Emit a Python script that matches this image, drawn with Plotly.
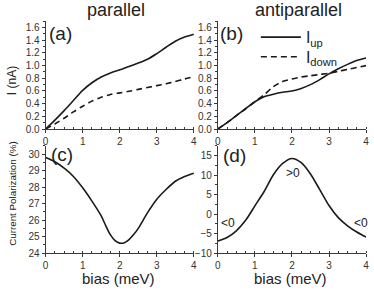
import plotly.graph_objects as go

W, H = 374, 295

# ---------------- data ----------------
bias = [0, 0.25, 0.5, 0.75, 1, 1.25, 1.5, 1.75, 2, 2.25, 2.5, 2.75, 3, 3.25, 3.5, 3.75, 4]

par_up = [0, 0.14, 0.29, 0.45, 0.61, 0.73, 0.82, 0.885, 0.935, 0.985, 1.04, 1.10, 1.19, 1.29, 1.385, 1.45, 1.495]
par_down = [0, 0.08, 0.17, 0.27, 0.36, 0.44, 0.50, 0.545, 0.57, 0.595, 0.625, 0.655, 0.685, 0.715, 0.75, 0.79, 0.825]

anti_up = [0, 0.10, 0.21, 0.32, 0.43, 0.51, 0.55, 0.58, 0.60, 0.64, 0.70, 0.78, 0.87, 0.95, 1.02, 1.08, 1.12]
anti_down = [0, 0.10, 0.21, 0.32, 0.43, 0.54, 0.67, 0.75, 0.79, 0.82, 0.84, 0.86, 0.88, 0.91, 0.94, 0.97, 1.0]

bias_c = [0, 0.25, 0.5, 0.75, 1, 1.25, 1.5, 1.625, 1.75, 1.875, 2, 2.125, 2.25, 2.375, 2.5,
          2.75, 3, 3.25, 3.5, 3.75, 4]
pol_par = [29.8, 29.54, 29.15, 28.65, 27.96, 27.15, 26.25, 25.65, 25.1, 24.75, 24.6, 24.63, 24.82, 25.12, 25.5,
           26.45, 27.27, 27.86, 28.36, 28.65, 28.85]

pol_anti = [-6.9, -6.0, -4.3, -1.6, 2.1, 5.8, 10.1, 13.0, 14.3, 13.2, 10.3, 6.3, 2.2, -0.9, -3.0, -4.6, -5.9]

x_ticks = [0, 1, 2, 3, 4]
i_ticks = [0.0, 0.2, 0.4, 0.6, 0.8, 1.0, 1.2, 1.4, 1.6]
pc_ticks = [24, 25, 26, 27, 28, 29, 30]
pd_ticks = [-10, -5, 0, 5, 10, 15]

FONT = "Liberation Sans, Arial, Helvetica, sans-serif"
LINE = "#1a1a1a"
AX = "#3a3a3a"


def px(x):
    return x / W


def py(y):
    return 1 - y / H


fig = go.Figure()

solid = dict(color=LINE, width=1.6, shape="spline", smoothing=0.8)
dashed = dict(color=LINE, width=1.6, dash="6px,4px", shape="spline", smoothing=0.8)

fig.add_trace(go.Scatter(x=bias, y=par_up, mode="lines", line=solid, xaxis="x", yaxis="y", showlegend=False))
fig.add_trace(go.Scatter(x=bias, y=par_down, mode="lines", line=dashed, xaxis="x", yaxis="y", showlegend=False))
fig.add_trace(go.Scatter(x=bias, y=anti_up, mode="lines", line=solid, xaxis="x2", yaxis="y2",
                         name="I<sub>up</sub>", showlegend=True, legend="legend"))
fig.add_trace(go.Scatter(x=bias, y=anti_down, mode="lines", line=dashed, xaxis="x2", yaxis="y2",
                         name="I<sub>down</sub>", showlegend=True, legend="legend2"))
fig.add_trace(go.Scatter(x=bias_c, y=pol_par, mode="lines", line=solid, xaxis="x3", yaxis="y3", showlegend=False))
fig.add_trace(go.Scatter(x=bias, y=pol_anti, mode="lines", line=solid, xaxis="x4", yaxis="y4", showlegend=False))

left_dom = [px(43.3), px(194)]
right_dom = [px(218.3), px(369)]
top_dom = [py(131.7), py(21.7)]
bot_dom = [py(258.3), py(149)]

tickfont = dict(family=FONT, size=10, color="#333")


def xax(domain, anchor):
    return dict(domain=domain, anchor=anchor, range=[0, 4], tickvals=x_ticks,
                showline=True, linecolor=AX, linewidth=1, mirror=False,
                ticks="outside", ticklen=3, tickcolor=AX, tickfont=tickfont,
                showgrid=False, zeroline=False,
                minor=dict(dtick=0.25, ticks="inside", ticklen=2, tickcolor=AX))


def yax(domain, anchor, rng, vals, fmt, minor_dt):
    return dict(domain=domain, anchor=anchor, range=rng, tickvals=vals, tickformat=fmt,
                showline=True, linecolor=AX, linewidth=1, mirror=False,
                ticks="outside", ticklen=3, tickcolor=AX, tickfont=tickfont,
                showgrid=False, zeroline=False,
                minor=dict(dtick=minor_dt, ticks="outside", ticklen=2, tickcolor=AX))


def leg(ypix):
    return dict(x=px(257), y=py(ypix), xanchor="left", yanchor="middle",
                bgcolor="rgba(0,0,0,0)", borderwidth=0,
                font=dict(family=FONT, size=16, color="#222"),
                itemwidth=40, tracegroupgap=0)


fig.update_layout(
    width=W, height=H,
    margin=dict(l=0, r=0, t=0, b=0),
    paper_bgcolor="white", plot_bgcolor="white",
    font=dict(family=FONT, color="#222"),
    xaxis=xax(left_dom, "y"),
    yaxis=yax(top_dom, "x", [0, 1.7], i_ticks, ".1f", 0.1),
    xaxis2=xax(right_dom, "y2"),
    yaxis2=yax(top_dom, "x2", [0, 1.7], i_ticks, ".1f", 0.1),
    xaxis3=xax(left_dom, "y3"),
    yaxis3=yax(bot_dom, "x3", [24, 30.5], pc_ticks, "d", 0.5),
    xaxis4=xax(right_dom, "y4"),
    yaxis4=yax(bot_dom, "x4", [-10, 17.5], pd_ticks, "d", 2.5),
    legend=leg(38),
    legend2=leg(58),
    showlegend=True,
)

annos = [
    dict(text="parallel", x=px(115), y=py(10), size=18),
    dict(text="antiparallel", x=px(300), y=py(10), size=18),
    dict(text="(a)", x=px(58.5), y=py(34), size=19),
    dict(text="(b)", x=px(232), y=py(34), size=19),
    dict(text="(c)", x=px(60), y=py(158), size=19),
    dict(text="(d)", x=px(235.5), y=py(159), size=19),
    dict(text="bias (meV)", x=px(117), y=py(284), size=15),
    dict(text="bias (meV)", x=px(292), y=py(284), size=15),
]
for a in annos:
    fig.add_annotation(text=a["text"], x=a["x"], y=a["y"], xref="paper", yref="paper",
                       xanchor="center", yanchor="middle", showarrow=False,
                       font=dict(family=FONT, size=a["size"], color="#222"))

fig.add_annotation(text="I (nA)", x=px(9), y=py(82), xref="paper", yref="paper",
                   textangle=-90, showarrow=False, xanchor="center", yanchor="middle",
                   font=dict(family=FONT, size=12, color="#222"))
fig.add_annotation(text="Current Polarization (%)", x=px(10), y=py(197), xref="paper", yref="paper",
                   textangle=-90, showarrow=False, xanchor="center", yanchor="middle",
                   font=dict(family=FONT, size=9.8, color="#222"))

# sign labels in panel (d)
for txt, xv, yv in [("<0", 0.27, -2.4), (">0", 2.03, 10.6), ("<0", 3.86, -2.3)]:
    fig.add_annotation(text=txt, x=xv, y=yv, xref="x4", yref="y4", showarrow=False,
                       xanchor="center", yanchor="middle",
                       font=dict(family=FONT, size=12, color="#222"))

fig.write_html("out.html", config={"displayModeBar": False},
               post_script="document.body.style.margin='0';document.body.style.overflow='hidden';")
